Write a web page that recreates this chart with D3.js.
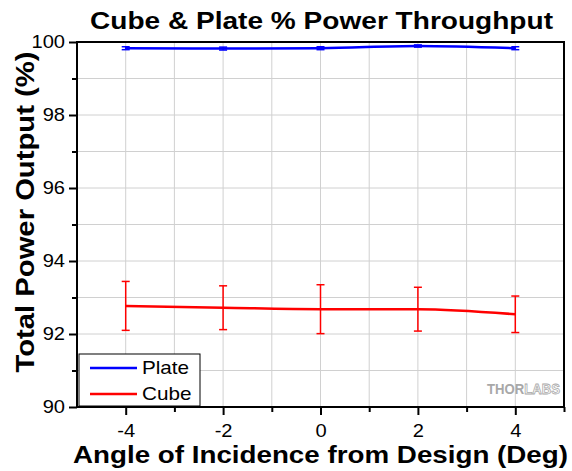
<!DOCTYPE html>
<html lang="en">
<head>
<meta charset="utf-8">
<title>Cube & Plate % Power Throughput</title>
<script src="https://d3js.org/d3.v7.min.js"></script>
<style>
    body { margin: 0; padding: 0; background: white; }
    svg { display: block; font-family: "Liberation Sans", Arial, sans-serif; }
    .grid line { stroke: #d0d0d0; stroke-width: 1; }
    .axis path, .axis line { stroke: #000; }
    .wide { transform-box: fill-box; transform: scaleX(1.15); }
</style>
</head>
<body>
<div id="chart"></div>
<script>
// angles (deg)
var angles = [-4, -2, 0, 2, 4];
// % power throughput
var plateValues = [99.83, 99.82, 99.83, 99.89, 99.83];
var plateErrors = [0.04, 0.04, 0.04, 0.03, 0.04];
var cubeValues = [92.77, 92.72, 92.68, 92.68, 92.54];
var cubeErrors = [0.67, 0.6, 0.67, 0.6, 0.5];
var xTicks = [-4, -2, 0, 2, 4];
var yTicks = [90, 92, 94, 96, 98, 100];
var seriesNames = ["Plate", "Cube"];

var width = 572, height = 471;
var margin = {top: 42, right: 8, bottom: 64, left: 77};

var svg = d3.select("#chart").append("svg")
    .attr("width", width)
    .attr("height", height);

var x = d3.scaleLinear().domain([-5, 5]).range([margin.left, width - margin.right]);
var y = d3.scaleLinear().domain([90, 100]).range([height - margin.bottom, margin.top]);

// grid
var grid = svg.append("g").attr("class", "grid");
grid.selectAll(".gx").data(d3.range(-4, 5)).enter().append("line")
    .attr("x1", function(d){ return x(d); }).attr("x2", function(d){ return x(d); })
    .attr("y1", y(90)).attr("y2", y(100));
grid.selectAll(".gy").data(d3.range(91, 100)).enter().append("line")
    .attr("y1", function(d){ return y(d); }).attr("y2", function(d){ return y(d); })
    .attr("x1", x(-5)).attr("x2", x(5));

function series(vals, errs, color) {
    var pts = angles.map(function(a, i){ return {x: a, y: vals[i], e: errs[i]}; });
    var g = svg.append("g");
    g.append("path").datum(pts)
        .attr("fill", "none").attr("stroke", color).attr("stroke-width", 2.5)
        .attr("d", d3.line().curve(d3.curveMonotoneX)
            .x(function(d){ return x(d.x); }).y(function(d){ return y(d.y); }));
    var eb = g.selectAll(".eb").data(pts).enter().append("g")
        .attr("stroke", color).attr("stroke-width", 1.5);
    eb.append("line")
        .attr("x1", function(d){ return x(d.x); }).attr("x2", function(d){ return x(d.x); })
        .attr("y1", function(d){ return y(d.y + d.e); }).attr("y2", function(d){ return y(d.y - d.e); });
    eb.append("line")
        .attr("x1", function(d){ return x(d.x) - 4; }).attr("x2", function(d){ return x(d.x) + 4; })
        .attr("y1", function(d){ return y(d.y + d.e); }).attr("y2", function(d){ return y(d.y + d.e); });
    eb.append("line")
        .attr("x1", function(d){ return x(d.x) - 4; }).attr("x2", function(d){ return x(d.x) + 4; })
        .attr("y1", function(d){ return y(d.y - d.e); }).attr("y2", function(d){ return y(d.y - d.e); });
}
series(plateValues, plateErrors, "#0000ff");
series(cubeValues, cubeErrors, "#ff0000");

// frame
svg.append("rect")
    .attr("x", x(-5)).attr("y", y(100))
    .attr("width", x(5) - x(-5)).attr("height", y(90) - y(100))
    .attr("fill", "none").attr("stroke", "#000").attr("stroke-width", 2);

// axes
svg.append("g").attr("class", "axis xmajor")
    .attr("transform", "translate(0," + y(90) + ")")
    .call(d3.axisBottom(x).tickValues(xTicks).tickSize(8).tickPadding(10)
        .tickFormat(function(d){ return String(d); }));
svg.append("g").attr("class", "axis")
    .attr("transform", "translate(0," + y(90) + ")")
    .call(d3.axisBottom(x).tickValues([-3, -1, 1, 3, 5]).tickSize(5).tickFormat(""));
svg.append("g").attr("class", "axis ymajor")
    .attr("transform", "translate(" + x(-5) + ",0)")
    .call(d3.axisLeft(y).tickValues(yTicks).tickSize(8).tickPadding(4));
svg.append("g").attr("class", "axis")
    .attr("transform", "translate(" + x(-5) + ",0)")
    .call(d3.axisLeft(y).tickValues([91, 93, 95, 97, 99]).tickSize(5).tickFormat(""));
svg.selectAll(".axis path").remove();
svg.selectAll(".axis line").attr("stroke-width", 2);
svg.selectAll(".axis text").attr("font-size", 17.5).attr("fill", "#000")
    .attr("font-family", "'Liberation Sans', Arial, sans-serif")
    .attr("class", "wide");
svg.selectAll(".xmajor text").style("transform-origin", "center");
svg.selectAll(".ymajor text").style("transform-origin", "right");

// titles
svg.append("text").attr("x", 321.5).attr("y", 29)
    .attr("text-anchor", "middle").attr("font-size", 24).attr("font-weight", "bold")
    .attr("textLength", 463).attr("lengthAdjust", "spacingAndGlyphs")
    .text("Cube & Plate % Power Throughput");
svg.append("text").attr("x", 320.5).attr("y", 463)
    .attr("text-anchor", "middle").attr("font-size", 24).attr("font-weight", "bold")
    .attr("textLength", 495).attr("lengthAdjust", "spacingAndGlyphs")
    .text("Angle of Incidence from Design (Deg)");
svg.append("text")
    .attr("transform", "translate(34,212) rotate(-90)")
    .attr("text-anchor", "middle").attr("font-size", 26).attr("font-weight", "bold")
    .attr("textLength", 321).attr("lengthAdjust", "spacingAndGlyphs")
    .text("Total Power Output (%)");

// legend
var legend = svg.append("g").attr("transform", "translate(79,354)");
legend.append("rect").attr("width", 121).attr("height", 52)
    .attr("fill", "white").attr("stroke", "#000").attr("stroke-width", 1);
var lc = ["#0000ff", "#ff0000"];
seriesNames.forEach(function(n, i){
    legend.append("line").attr("x1", 11).attr("x2", 58)
        .attr("y1", 14 + i * 26).attr("y2", 14 + i * 26)
        .attr("stroke", lc[i]).attr("stroke-width", 2.5);
    legend.append("text").attr("x", 63).attr("y", 20 + i * 26)
        .attr("font-size", 18).attr("class", "wide").style("transform-origin", "left")
        .text(n);
});

// watermark
var wm = svg.append("text").attr("x", 560).attr("y", 394)
    .attr("text-anchor", "end").attr("font-size", 14).attr("font-weight", "bold")
    .attr("textLength", 73).attr("lengthAdjust", "spacingAndGlyphs");
wm.append("tspan").attr("fill", "#a8a8a8").text("THOR");
wm.append("tspan").attr("fill", "white").attr("stroke", "#a8a8a8").attr("stroke-width", 0.8).text("LABS");
</script>
</body>
</html>
